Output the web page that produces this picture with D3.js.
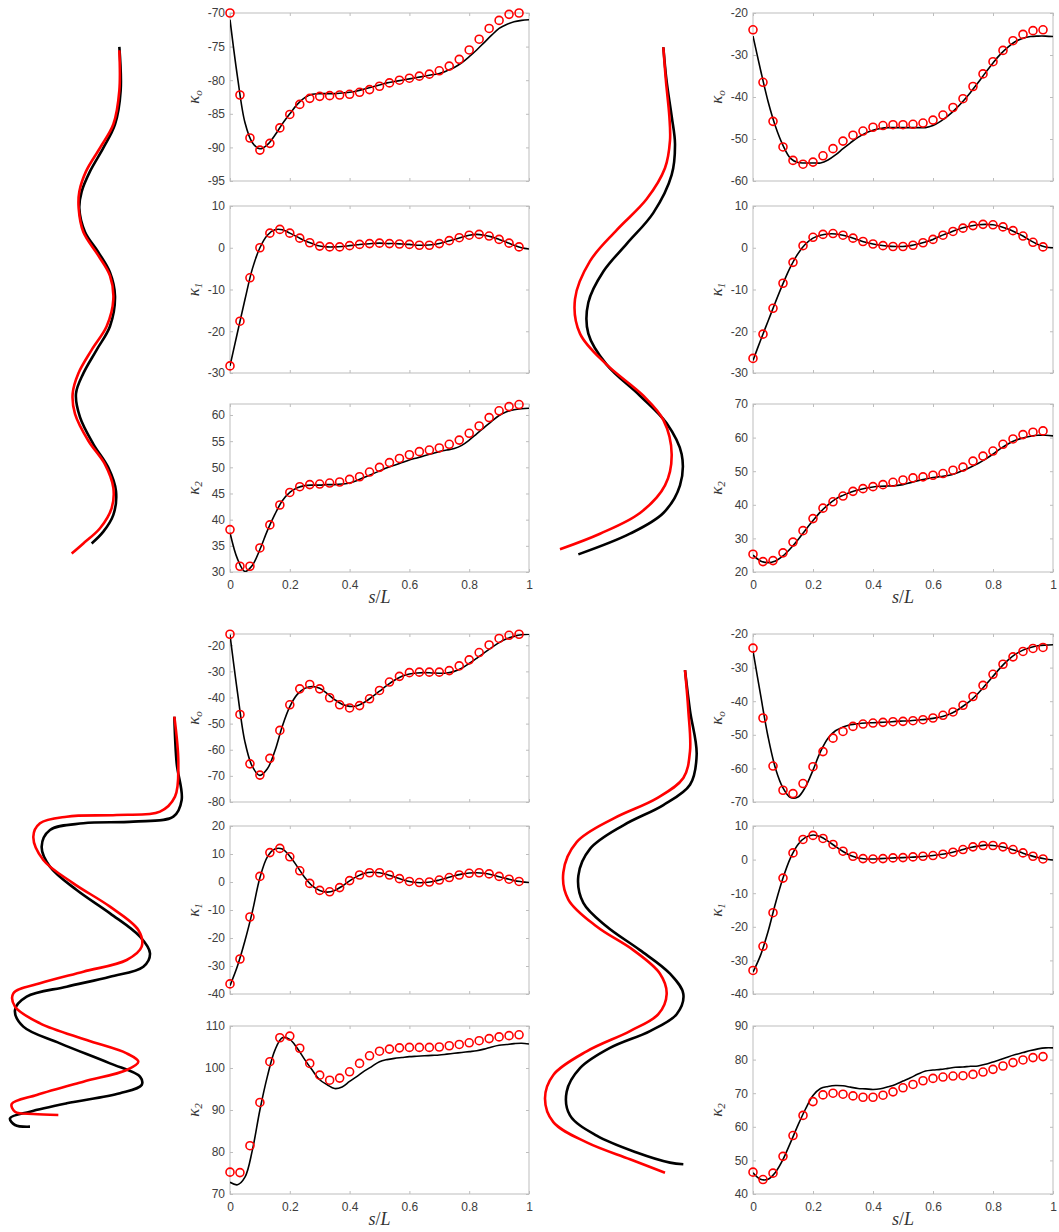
<!DOCTYPE html>
<html><head><meta charset="utf-8">
<script src="https://cdn.jsdelivr.net/npm/d3@7"></script>
<style>body{margin:0;background:#fff}svg{display:block}</style>
</head><body>
<script>
// ---------- sampling grids (s/L) ----------
const sLine = [0,0.025,0.05,0.075,0.1,0.125,0.15,0.175,0.2,0.225,0.25,0.275,0.3,0.325,0.35,0.375,0.4,0.425,0.45,0.475,0.5,0.525,0.55,0.575,0.6,0.625,0.65,0.675,0.7,0.725,0.75,0.775,0.8,0.825,0.85,0.875,0.9,0.925,0.95,0.975,1];
const sMark = [0,0.0333,0.0667,0.1,0.1333,0.1667,0.2,0.2333,0.2667,0.3,0.3333,0.3667,0.4,0.4333,0.4667,0.5,0.5333,0.5667,0.6,0.6333,0.6667,0.7,0.7333,0.7667,0.8,0.8333,0.8667,0.9,0.9333,0.9667];
const xTicks = [0,0.2,0.4,0.6,0.8,1];

// ---------- top-left panel ----------
const TL0_black = [-71.0,-79.5,-86.3,-89.3,-90.2,-89.6,-88.2,-86.5,-85.0,-83.6,-82.6,-82.1,-82.0,-82.0,-82.0,-81.9,-81.8,-81.6,-81.3,-81.0,-80.7,-80.4,-80.2,-80.0,-79.8,-79.6,-79.4,-79.2,-79.0,-78.6,-78.1,-77.4,-76.5,-75.5,-74.4,-73.3,-72.3,-71.7,-71.3,-71.1,-71.0];
const TL0_red = [-70.0,-82.2,-88.6,-90.4,-89.4,-87.1,-85.1,-83.6,-82.7,-82.4,-82.3,-82.2,-82.1,-81.8,-81.4,-80.9,-80.4,-80.0,-79.7,-79.4,-79.1,-78.6,-77.9,-76.9,-75.5,-73.9,-72.3,-71.1,-70.2,-70.0];
const TL1_black = [-28.3,-20.3,-12.4,-5.0,0.0,3.0,4.3,4.3,3.5,2.6,1.7,1.0,0.4,0.2,0.2,0.3,0.5,0.7,0.9,1.0,1.1,1.0,1.0,0.9,0.8,0.6,0.6,0.7,1.0,1.5,2.0,2.5,3.0,3.2,3.0,2.6,2.0,1.3,0.6,0.0,-0.3];
const TL1_red = [-28.3,-17.6,-7.2,0.0,3.5,4.4,3.5,2.3,1.2,0.4,0.2,0.2,0.5,0.8,1.0,1.1,1.0,0.9,0.8,0.6,0.6,1.0,1.7,2.4,3.0,3.2,2.8,2.0,1.1,0.2];
const TL2_black = [37.5,32.5,30.1,31.3,34.3,37.9,41.0,43.6,45.2,46.1,46.5,46.6,46.6,46.7,46.7,46.8,47.0,47.5,48.1,48.7,49.3,49.9,50.4,50.9,51.4,51.8,52.2,52.6,53.0,53.3,53.6,54.2,55.2,56.4,57.6,58.8,59.9,60.6,61.0,61.2,61.3];
const TL2_red = [38.1,31.1,31.1,34.6,39.0,42.8,45.2,46.3,46.7,46.8,47.0,47.2,47.7,48.2,49.1,50.0,50.9,51.7,52.4,53.0,53.3,53.7,54.4,55.2,56.5,57.9,59.5,60.8,61.6,62.0];

// ---------- top-right panel ----------
const TR0_black = [-25.5,-33.5,-41.0,-47.0,-51.5,-54.6,-55.6,-55.7,-55.7,-55.7,-55.0,-53.8,-52.3,-50.9,-49.6,-48.6,-47.9,-47.5,-47.3,-47.3,-47.3,-47.3,-47.3,-47.3,-46.8,-45.8,-44.5,-42.9,-41.0,-38.9,-36.6,-34.2,-31.9,-29.8,-28.1,-26.8,-26.0,-25.6,-25.5,-25.5,-25.6];
const TR0_red = [-24.0,-36.5,-45.8,-51.9,-55.1,-56.0,-55.5,-54.0,-52.3,-50.5,-49.1,-48.1,-47.2,-46.8,-46.6,-46.6,-46.5,-46.2,-45.5,-44.3,-42.5,-40.4,-37.5,-34.5,-31.6,-28.9,-26.6,-25.1,-24.2,-24.0];
const TR1_black = [-27.0,-22.2,-17.6,-13.0,-8.6,-4.6,-1.4,0.9,2.3,3.0,3.3,3.3,3.0,2.5,1.9,1.3,0.9,0.6,0.4,0.3,0.3,0.5,0.9,1.4,2.0,2.8,3.5,4.2,4.8,5.2,5.5,5.6,5.5,5.1,4.5,3.7,2.8,1.7,0.8,0.2,0.0];
const TR1_red = [-26.5,-20.7,-14.5,-8.5,-3.5,0.5,2.5,3.2,3.4,3.0,2.3,1.5,0.9,0.5,0.3,0.3,0.6,1.2,2.0,3.0,3.9,4.7,5.3,5.6,5.5,5.0,4.1,2.8,1.3,0.2];
const TR2_black = [25.0,23.3,22.8,23.3,24.8,27.0,29.6,32.5,35.3,37.9,40.0,41.7,42.8,43.7,44.4,44.9,45.3,45.5,45.6,45.7,46.0,46.6,47.2,47.7,48.1,48.4,48.7,49.3,50.2,51.2,52.3,53.6,55.1,56.7,58.1,59.2,59.9,60.4,60.7,60.7,60.5];
const TR2_red = [25.3,23.1,23.4,25.7,28.9,32.3,35.9,39.0,40.9,42.6,44.0,44.8,45.4,46.0,46.7,47.4,48.0,48.3,48.8,49.3,50.3,51.2,53.0,54.5,56.0,58.0,59.6,60.9,61.6,62.0];

// ---------- bottom-left panel ----------
const BL0_black = [-16.0,-38.0,-57.0,-66.5,-69.8,-67.3,-60.5,-51.0,-43.5,-38.8,-36.5,-35.8,-36.5,-38.5,-40.8,-42.6,-43.4,-43.2,-41.8,-39.8,-37.6,-35.4,-33.4,-31.9,-31.0,-30.6,-30.5,-30.6,-30.7,-30.6,-30.0,-28.8,-27.0,-25.0,-22.9,-20.9,-19.0,-17.5,-16.6,-16.0,-15.8];
const BL0_red = [-15.8,-46.5,-65.4,-69.7,-63.3,-52.6,-42.8,-36.7,-35.0,-36.7,-40.1,-42.8,-44.0,-43.1,-40.5,-37.3,-34.1,-31.9,-30.5,-30.3,-30.3,-30.3,-29.7,-27.9,-25.6,-22.8,-19.9,-17.4,-16.2,-15.8];
const BL1_black = [-37.0,-30.0,-21.0,-10.5,1.5,9.0,11.8,11.8,9.2,5.5,1.6,-1.4,-3.0,-3.6,-3.0,-1.5,0.4,2.0,3.1,3.5,3.3,2.7,1.8,0.9,0.2,-0.2,-0.2,0.1,0.7,1.4,2.2,2.8,3.2,3.3,3.1,2.6,1.9,1.2,0.5,0.1,-0.2];
const BL1_red = [-36.4,-27.5,-12.5,2.0,10.5,12.0,9.0,4.0,-0.5,-3.0,-3.5,-2.0,0.5,2.5,3.3,3.3,2.5,1.2,0.2,-0.2,0.0,0.7,1.6,2.5,3.1,3.3,2.9,2.0,1.0,0.2];
const BL2_black = [72.8,72.2,74.0,80.5,90.0,98.0,104.2,107.2,106.8,104.7,102.0,99.5,97.2,96.0,95.1,95.5,96.8,98.0,99.3,100.4,101.5,102.0,102.3,102.5,102.7,102.8,102.9,103.0,103.1,103.3,103.5,103.7,103.9,104.1,104.5,105.0,105.4,105.6,105.8,105.9,105.7];
const BL2_red = [75.2,75.1,81.5,91.8,101.5,107.2,107.6,104.7,101.1,98.3,97.1,97.6,99.1,101.1,102.9,104.0,104.5,104.8,104.9,104.9,104.9,105.0,105.3,105.6,106.0,106.5,107.0,107.4,107.7,107.9];

// ---------- bottom-right panel ----------
const BR0_black = [-25.0,-38.0,-50.5,-60.0,-65.8,-68.7,-68.5,-65.5,-60.5,-55.0,-51.0,-48.8,-47.7,-47.0,-46.7,-46.5,-46.4,-46.3,-46.2,-46.0,-45.9,-45.8,-45.6,-45.4,-45.1,-44.7,-44.0,-43.0,-41.5,-39.8,-37.7,-35.2,-32.6,-30.0,-27.8,-26.0,-24.8,-24.0,-23.5,-23.3,-23.2];
const BR0_red = [-24.2,-45.0,-59.3,-66.5,-67.5,-64.5,-59.5,-55.0,-51.0,-49.0,-47.5,-46.8,-46.5,-46.3,-46.1,-46.0,-45.8,-45.5,-45.0,-44.2,-43.2,-41.2,-38.6,-35.3,-32.0,-29.0,-26.8,-25.2,-24.3,-24.0];
const BR1_black = [-33.5,-28.5,-21.5,-13.0,-5.5,0.5,4.5,6.6,7.3,6.8,5.5,3.9,2.4,1.2,0.5,0.2,0.2,0.3,0.4,0.5,0.6,0.7,0.8,1.0,1.2,1.5,1.9,2.4,3.0,3.6,4.0,4.3,4.2,3.9,3.4,2.7,1.9,1.2,0.6,0.2,-0.1];
const BR1_red = [-33.0,-25.8,-15.8,-5.5,2.0,6.0,7.2,6.3,4.5,2.5,1.0,0.3,0.2,0.3,0.5,0.6,0.8,1.0,1.2,1.6,2.2,3.0,3.8,4.2,4.2,3.8,3.0,2.0,1.0,0.2];
const BR2_black = [46.3,44.4,44.4,46.5,50.3,55.3,60.5,65.3,69.3,71.4,72.0,72.3,72.2,71.8,71.4,71.3,71.1,71.3,71.9,72.6,73.6,74.6,75.7,76.6,76.9,77.1,77.4,77.7,77.8,78.0,78.1,78.6,79.3,80.0,80.8,81.5,82.1,82.7,83.2,83.5,83.5];
const BR2_red = [46.5,44.3,46.2,51.2,57.4,63.4,67.5,69.5,70.0,69.7,69.2,68.8,68.8,69.4,70.4,71.6,72.6,73.7,74.4,74.8,75.1,75.2,75.6,76.3,77.1,78.1,79.1,79.9,80.6,80.9];

// ---------- y ticks / limits ----------
const TL_yTicks = [[-95,-90,-85,-80,-75,-70],[-30,-20,-10,0,10],[30,35,40,45,50,55,60]];
const TL_yLim = [[-95,-70],[-30,10],[30,62.1]];
const TR_yTicks = [[-60,-50,-40,-30,-20],[-30,-20,-10,0,10],[20,30,40,50,60,70]];
const TR_yLim = [[-60,-20],[-30,10],[20,70]];
const BL_yTicks = [[-80,-70,-60,-50,-40,-30,-20],[-40,-30,-20,-10,0,10,20],[70,80,90,100,110]];
const BL_yLim = [[-80,-15.7],[-40,20],[70,110]];
const BR_yTicks = [[-70,-60,-50,-40,-30,-20],[-40,-30,-20,-10,0,10],[40,50,60,70,80,90]];
const BR_yLim = [[-70,-20],[-40,10],[40,90]];
const kappaSubs = ["o","1","2"];

// ---------- body shapes (arbitrary length units, y downward) ----------
const TL_shape_black = [[358,50],[362,180],[345,280],[310,350],[270,420],[245,480],[238,530],[255,600],[295,660],[330,720],[345,790],[330,880],[290,950],[250,1020],[228,1080],[240,1150],[280,1230],[325,1300],[348,1370],[340,1440],[310,1490],[275,1525]];
const TL_shape_red = [[358,60],[358,180],[340,280],[300,350],[258,420],[238,480],[236,530],[250,600],[295,670],[330,730],[340,800],[320,880],[275,950],[235,1020],[218,1080],[225,1140],[265,1220],[315,1290],[340,1360],[335,1420],[300,1480],[250,1525],[215,1555]];
const TR_shape_black = [[370,50],[380,150],[395,250],[405,330],[395,420],[340,530],[260,620],[190,700],[145,790],[145,880],[200,970],[300,1060],[380,1140],[425,1230],[420,1320],[370,1400],[270,1460],[115,1520]];
const TR_shape_red = [[370,50],[378,150],[388,250],[390,320],[375,400],[320,490],[230,580],[150,670],[105,780],[120,880],[200,970],[310,1060],[370,1130],[395,1230],[375,1320],[300,1400],[180,1460],[60,1505]];
const BL_shape_black = [[523,110],[530,250],[545,360],[520,410],[400,425],[250,430],[150,450],[125,500],[150,560],[230,630],[330,700],[420,770],[450,820],[430,860],[330,890],[200,920],[80,950],[45,990],[70,1040],[180,1090],[330,1150],[420,1190],[425,1215],[360,1240],[200,1270],[90,1295],[30,1315],[45,1335],[90,1340]];
const BL_shape_red = [[523,110],[535,250],[525,350],[480,395],[350,405],[200,410],[120,430],[100,470],[130,540],[220,610],[330,680],[415,750],[425,800],[380,840],[250,875],[120,910],[40,940],[45,980],[120,1030],[260,1080],[380,1120],[415,1145],[380,1170],[250,1205],[110,1245],[35,1272],[45,1295],[100,1302],[175,1305]];
const BR_shape_black = [[465,30],[480,150],[500,280],[480,370],[400,430],[280,490],[180,560],[145,640],[160,720],[230,790],[330,860],[420,930],[460,990],[440,1050],[360,1100],[240,1150],[150,1210],[110,1280],[120,1350],[200,1410],[320,1460],[420,1490],[460,1495]];
const BR_shape_red = [[465,30],[475,150],[480,270],[460,350],[380,410],[250,470],[140,540],[100,630],[115,710],[200,790],[310,860],[390,930],[410,990],[385,1050],[300,1100],[170,1160],[70,1230],[45,1300],[70,1370],[170,1430],[300,1480],[405,1520]];

// ---------- layout ----------
const W = 1059, H = 1232;
const svg = d3.select("body").append("svg").attr("width", W).attr("height", H)
  .attr("font-family", "'Liberation Sans', Arial, Helvetica, sans-serif");

const colX = [[230, 529], [753, 1053]];
const rowY = { top: [[13,181],[206,373],[404,572]], bot: [[634,802],[826,994],[1026,1194]] };

const panels = [
  { col: 0, rows: rowY.top, ticks: TL_yTicks, lims: TL_yLim, black: [TL0_black,TL1_black,TL2_black], red: [TL0_red,TL1_red,TL2_red],
    shape: { black: TL_shape_black, red: TL_shape_red, ox: 0, oy: 30, fy: 1.01 } },
  { col: 1, rows: rowY.top, ticks: TR_yTicks, lims: TR_yLim, black: [TR0_black,TR1_black,TR2_black], red: [TR0_red,TR1_red,TR2_red],
    shape: { black: TR_shape_black, red: TR_shape_red, ox: 540, oy: 30, fy: 1.035 } },
  { col: 0, rows: rowY.bot, ticks: BL_yTicks, lims: BL_yLim, black: [BL0_black,BL1_black,BL2_black], red: [BL0_red,BL1_red,BL2_red],
    shape: { black: BL_shape_black, red: BL_shape_red, ox: 0, oy: 680, fy: 1.0 } },
  { col: 1, rows: rowY.bot, ticks: BR_yTicks, lims: BR_yLim, black: [BR0_black,BR1_black,BR2_black], red: [BR0_red,BR1_red,BR2_red],
    shape: { black: BR_shape_black, red: BR_shape_red, ox: 530, oy: 660, fy: 1.012 } }
];

const boxColor = "#bdbdbd", textColor = "#3d3d3d";
let clipId = 0;

panels.forEach(p => {
  // body shapes
  const sx = d3.scaleLinear().domain([0, 3]).range([p.shape.ox, p.shape.ox + 1]);
  const sy = d3.scaleLinear().domain([0, 3]).range([p.shape.oy, p.shape.oy + p.shape.fy]);
  const shapeLine = d3.line().x(d => sx(d[0])).y(d => sy(d[1])).curve(d3.curveCatmullRom.alpha(0.5));
  svg.append("path").attr("d", shapeLine(p.shape.black)).attr("fill","none").attr("stroke","#000").attr("stroke-width",2.6);
  svg.append("path").attr("d", shapeLine(p.shape.red)).attr("fill","none").attr("stroke","#ff0000").attr("stroke-width",2.6);

  const [x0, x1] = colX[p.col];
  const x = d3.scaleLinear().domain([0, 1]).range([x0, x1]);

  p.rows.forEach(([yTop, yBot], i) => {
    const y = d3.scaleLinear().domain(p.lims[i]).range([yBot, yTop]);
    const g = svg.append("g");
    const cid = "clip" + (clipId++);
    g.append("clipPath").attr("id", cid).append("rect")
      .attr("x", x0).attr("y", yTop).attr("width", x1 - x0).attr("height", yBot - yTop);

    // box
    g.append("rect").attr("x", x0).attr("y", yTop).attr("width", x1 - x0).attr("height", yBot - yTop)
      .attr("fill", "none").attr("stroke", boxColor).attr("stroke-width", 1);

    const fmt = d => String(d);
    const styleAxis = sel => {
      sel.select(".domain").remove();
      sel.selectAll(".tick line").attr("stroke", boxColor);
      sel.selectAll(".tick text").attr("fill", textColor).attr("font-size", 12);
    };
    g.append("g").attr("transform", `translate(${x0},0)`)
      .call(d3.axisLeft(y).tickValues(p.ticks[i]).tickSizeInner(-3).tickSizeOuter(0).tickPadding(5).tickFormat(fmt))
      .call(styleAxis);
    g.append("g").attr("transform", `translate(${x1},0)`)
      .call(d3.axisRight(y).tickValues(p.ticks[i]).tickSizeInner(-3).tickSizeOuter(0).tickFormat(""))
      .call(styleAxis);
    g.append("g").attr("transform", `translate(0,${yBot})`)
      .call(d3.axisBottom(x).tickValues(xTicks).tickSizeInner(-3).tickSizeOuter(0).tickPadding(8).tickFormat(i === 2 ? fmt : ""))
      .call(styleAxis);
    g.append("g").attr("transform", `translate(0,${yTop})`)
      .call(d3.axisTop(x).tickValues(xTicks).tickSizeInner(-3).tickSizeOuter(0).tickFormat(""))
      .call(styleAxis);

    // black line
    const line = d3.line().x((d, j) => x(sLine[j])).y(d => y(d)).curve(d3.curveCatmullRom.alpha(0.5));
    g.append("path").attr("d", line(p.black[i])).attr("clip-path", `url(#${cid})`)
      .attr("fill", "none").attr("stroke", "#000").attr("stroke-width", 1.6);

    // red markers
    g.selectAll("circle.m").data(p.red[i]).join("circle").attr("class", "m")
      .attr("cx", (d, j) => x(sMark[j])).attr("cy", d => y(d)).attr("r", 4)
      .attr("fill", "none").attr("stroke", "#ff0000").attr("stroke-width", 1.6);

    // y label
    const lx = x0 - 31, ly = (yTop + yBot) / 2;
    const t = g.append("text").attr("transform", `translate(${lx},${ly}) rotate(-90)`)
      .attr("text-anchor", "middle").attr("font-family", "'Liberation Serif','DejaVu Serif',serif")
      .attr("font-style", "italic").attr("font-size", 17).attr("fill", "#333");
    t.append("tspan").text("κ");
    t.append("tspan").attr("font-size", 11).attr("dy", 3).text(kappaSubs[i]);

    // x label
    if (i === 2) {
      const xl = g.append("text").attr("x", (x0 + x1) / 2).attr("y", yBot + 31)
        .attr("text-anchor", "middle").attr("font-family", "'Liberation Serif','DejaVu Serif',serif")
        .attr("font-size", 18).attr("fill", "#333");
      xl.append("tspan").attr("font-style", "italic").text("s");
      xl.append("tspan").text("/");
      xl.append("tspan").attr("font-style", "italic").text("L");
    }
  });
});
</script>
</body></html>
